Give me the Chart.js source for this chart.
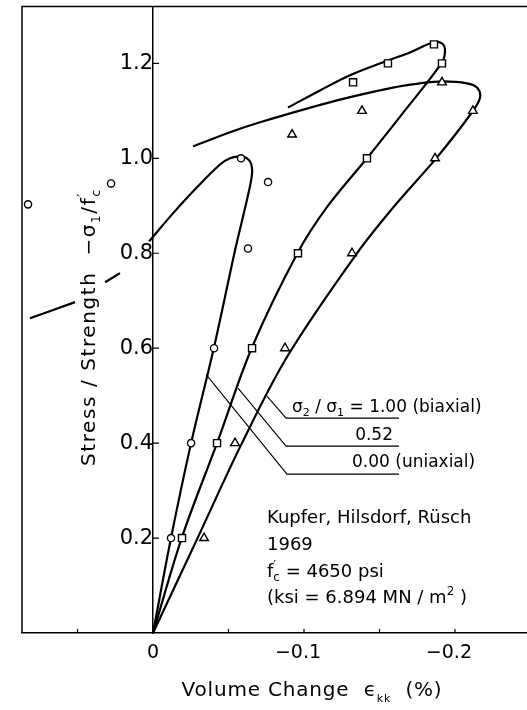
<!DOCTYPE html>
<html>
<head>
<meta charset="utf-8">
<script src="https://cdn.jsdelivr.net/npm/chart.js@4.4.1/dist/chart.umd.min.js"></script>
<style>
html, body { margin: 0; padding: 0; background: #fff; overflow: hidden; width: 527px; height: 710px; }
canvas { display: block; }
</style>
</head>
<body>
<canvas id="c" width="610" height="710"></canvas>
<script>
// ---------------- data ----------------
// Tick labels
const xTickValues = [0, -0.1, -0.2];
const xTickLabels = ['0', '\u22120.1  ', '\u22120.2  '];
const yTickValues = [0.2, 0.4, 0.6, 0.8, 1.0, 1.2];
const yTickLabels = ['0.2', '0.4', '0.6', '0.8', '1.0', '1.2'];

// Series (sigma2/sigma1)
const seriesNames = ['0.00 (uniaxial)', '0.52', '\u03c3\u2082/\u03c3\u2081 = 1.00 (biaxial)'];

// Measured points: uniaxial (circles)
const uniMarkX = [-0.0119, -0.0252, -0.0404, -0.0583, -0.0629, -0.0762, 0.0278, 0.0828];
const uniMarkY = [0.20, 0.40, 0.60, 1.00, 0.81, 0.95, 0.947, 0.903];
// Measured points: 0.52 (squares)
const midMarkX = [-0.0192, -0.0424, -0.0656, -0.0960, -0.1417, -0.1914, -0.1861, -0.1556, -0.1325];
const midMarkY = [0.20, 0.40, 0.60, 0.80, 1.00, 1.20, 1.24, 1.20, 1.16];
// Measured points: biaxial (triangles)
const biMarkX = [-0.0338, -0.0543, -0.0874, -0.1318, -0.1868, -0.2119, -0.1914, -0.1384, -0.0921];
const biMarkY = [0.20, 0.40, 0.60, 0.80, 1.00, 1.10, 1.16, 1.10, 1.05];

// Fitted curves (null = break where text sits on the line)
const uniCurveX = [0, -0.0119, -0.0252, -0.0404, -0.0543, -0.0629, -0.0656, -0.0649, -0.0623, -0.0576, -0.0510, -0.0444, -0.0291, -0.0132, 0.0026, null, 0.0219, 0.0318, null, 0.0517, 0.0815];
const uniCurveY = [0, 0.200, 0.400, 0.602, 0.806, 0.922, 0.968, 0.989, 1.000, 1.004, 1.000, 0.987, 0.939, 0.884, 0.825, null, 0.758, 0.739, null, 0.697, 0.663];

const midCurveX = [0, -0.0192, -0.0424, -0.0656, -0.0960, -0.1152, -0.1417, -0.1669, -0.1914, -0.1934, -0.1914, -0.1854, -0.1702, -0.1556, -0.1305, -0.1106, -0.0894];
const midCurveY = [0, 0.202, 0.400, 0.602, 0.802, 0.897, 1.000, 1.101, 1.202, 1.227, 1.242, 1.244, 1.223, 1.206, 1.175, 1.143, 1.107];

const biCurveX = [0, -0.0298, -0.0589, -0.0894, -0.1351, -0.1603, -0.1881, -0.2113, -0.2166, -0.2146, -0.2079, -0.1921, -0.1768, -0.1589, -0.1219, -0.0709, -0.0510, -0.0265];
const biCurveY = [0, 0.202, 0.400, 0.585, 0.800, 0.901, 1.002, 1.097, 1.128, 1.149, 1.158, 1.162, 1.158, 1.149, 1.122, 1.076, 1.055, 1.025];

// Leader lines from curves to their labels
const uniLeadX = [-0.0351, -0.0887, -0.1629];
const uniLeadY = [0.545, 0.3347, 0.3347];
const midLeadX = [-0.0563, -0.0881, -0.1629];
const midLeadY = [0.516, 0.3937, 0.3937];
const biLeadX = [-0.0755, -0.0881, -0.1629];
const biLeadY = [0.499, 0.4526, 0.4526];

// ---------------- drawing ----------------
const FAM = '"DejaVu Sans", "Liberation Sans", sans-serif';
Chart.defaults.font.family = FAM;
Chart.defaults.color = '#000';

const pts = (xs, ys) => xs.map((x, i) => ({ x: x, y: ys[i] }));

function marker(name, xs, ys, style, r) {
  return { label: name, data: pts(xs, ys), showLine: false, pointStyle: style, pointRadius: r,
    pointBorderWidth: 1.4, pointBackgroundColor: '#fff', pointBorderColor: '#000' };
}
function curve(name, xs, ys, w, tension) {
  return { label: name, data: pts(xs, ys), showLine: true, pointRadius: 0, borderColor: '#000',
    borderWidth: w, tension: tension, fill: false, spanGaps: false };
}

function richWidth(ctx, parts) {
  let w = 0;
  for (const p of parts) {
    ctx.font = p.s + 'px ' + FAM;
    if (p.stack) w += Math.max(...p.stack.map(t => ctx.measureText(t).width));
    else w += ctx.measureText(p.t).width;
  }
  return w;
}
function richDraw(ctx, parts, x, y) {
  for (const p of parts) {
    ctx.font = p.s + 'px ' + FAM;
    if (p.stack) {
      let mw = 0;
      p.stack.forEach((t, i) => { ctx.fillText(t, x, y + p.dy[i]); mw = Math.max(mw, ctx.measureText(t).width); });
      x += mw;
    } else {
      ctx.fillText(p.t, x, y + (p.dy || 0));
      x += ctx.measureText(p.t).width;
    }
  }
}

const decor = {
  id: 'decor',
  beforeDatasetsDraw(chart) {
    const ctx = chart.ctx, a = chart.chartArea;
    const xs = chart.scales.x, ys = chart.scales.y;
    ctx.save();
    ctx.strokeStyle = '#000';
    ctx.lineWidth = 1.5;
    ctx.beginPath();
    ctx.moveTo(a.left, a.bottom); ctx.lineTo(a.left, a.top); ctx.lineTo(a.right, a.top);
    ctx.stroke();
    // inward tick marks
    ctx.lineWidth = 1.2;
    ctx.beginPath();
    xs.ticks.forEach(t => {
      if (Math.abs(t.value) < 1e-9) return;
      const px = xs.getPixelForValue(t.value);
      ctx.moveTo(px, a.bottom); ctx.lineTo(px, a.bottom - 4);
    });
    const x0 = xs.getPixelForValue(0);
    ys.ticks.forEach(t => {
      if (t.value <= 0) return;
      const py = ys.getPixelForValue(t.value);
      ctx.moveTo(x0, py); ctx.lineTo(x0 + 6, py);
    });
    ctx.stroke();
    ctx.restore();
  },
  afterDraw(chart) {
    const ctx = chart.ctx, a = chart.chartArea;
    ctx.save();
    ctx.fillStyle = '#000';
    ctx.textBaseline = 'alphabetic';
    ctx.textAlign = 'left';

    // x-axis title
    ctx.letterSpacing = '0.8px';
    const xt = [{ t: 'Volume Change  \u03f5', s: 20 }, { t: 'kk', s: 11, dy: 6 }, { t: '  (%)', s: 20 }];
    const xw = richWidth(ctx, xt);
    richDraw(ctx, xt, (a.left + a.right) / 2 - xw / 2, 696);

    // y-axis title (rotated)
    ctx.letterSpacing = '1.6px';
    const yt = [{ t: 'Stress / Strength  \u2212\u03c3', s: 20 }, { t: '1', s: 12, dy: 5 },
                { t: '/f', s: 20 }, { stack: ['\u2032', 'c'], s: 13, dy: [-9, 5] }];
    const yw = richWidth(ctx, yt);
    ctx.save();
    ctx.translate(95, 327);
    ctx.rotate(-Math.PI / 2);
    richDraw(ctx, yt, -yw / 2, 0);
    ctx.restore();
    ctx.letterSpacing = '0px';

    // curve labels
    richDraw(ctx, [{ t: '\u03c3', s: 17 }, { t: '2', s: 11, dy: 4 }, { t: ' / \u03c3', s: 17 },
                   { t: '1', s: 11, dy: 4 }, { t: ' = 1.00 (biaxial)', s: 17 }], 292, 412);
    ctx.font = '17px ' + FAM;
    ctx.textAlign = 'right';
    ctx.fillText(seriesNames[1], 393, 440);
    ctx.textAlign = 'left';
    ctx.fillText(seriesNames[0], 352, 467);

    // source block
    ctx.font = '18px ' + FAM;
    ctx.fillText('Kupfer, Hilsdorf, R\u00fcsch', 267, 523);
    ctx.fillText('1969', 267, 550);
    richDraw(ctx, [{ t: 'f', s: 18 }, { stack: ['\u2032', 'c'], s: 12, dy: [-8, 4] }, { t: ' = 4650 psi', s: 18 }], 267, 577);
    richDraw(ctx, [{ t: '(ksi = 6.894 MN / m', s: 18 }, { t: '2', s: 12, dy: -8 }, { t: ' )', s: 18 }], 267, 603);
    ctx.restore();
  }
};

new Chart(document.getElementById('c'), {
  type: 'scatter',
  data: {
    datasets: [
      marker('uniaxial', uniMarkX, uniMarkY, 'circle', 3.6),
      marker('0.52', midMarkX, midMarkY, 'rect', 5),
      marker('biaxial', biMarkX, biMarkY, 'triangle', 5),
      curve('uniaxial curve', uniCurveX, uniCurveY, 2.2, 0.35),
      curve('0.52 curve', midCurveX, midCurveY, 2.2, 0.35),
      curve('biaxial curve', biCurveX, biCurveY, 2.2, 0.35),
      curve('uniaxial leader', uniLeadX, uniLeadY, 1.1, 0),
      curve('0.52 leader', midLeadX, midLeadY, 1.1, 0),
      curve('biaxial leader', biLeadX, biLeadY, 1.1, 0)
    ]
  },
  options: {
    responsive: false,
    animation: false,
    events: [],
    layout: { padding: { left: 22, top: 6, right: 8, bottom: 7 } },
    plugins: { legend: { display: false }, tooltip: { enabled: false } },
    scales: {
      x: {
        type: 'linear', reverse: true, min: -0.2974, max: 0.0868, position: 'bottom',
        afterFit: s => { s.height = 70; s.paddingLeft = 0; s.paddingRight = 0; },
        border: { display: true, color: '#000', width: 1.5 },
        grid: { display: false, drawTicks: false },
        ticks: {
          stepSize: 0.05, includeBounds: false, autoSkip: false, maxRotation: 0, minRotation: 0,
          padding: 9, color: '#000', font: { size: 19, family: FAM },
          callback: v => { const i = xTickValues.findIndex(t => Math.abs(t - v) < 1e-6); return i >= 0 ? xTickLabels[i] : ''; }
        }
      },
      y: {
        type: 'linear', min: 0, max: 1.32, position: { x: 0 },
        afterFit: s => { s.paddingTop = 0; s.paddingBottom = 0; },
        border: { display: true, color: '#000', width: 1.5 },
        grid: { display: false, drawTicks: false },
        ticks: {
          stepSize: 0.2, includeBounds: false, autoSkip: false,
          padding: 4, color: '#000', font: { size: 21, family: FAM },
          callback: v => { const i = yTickValues.findIndex(t => Math.abs(t - v) < 1e-6); return i >= 0 ? yTickLabels[i] : ''; }
        }
      }
    }
  },
  plugins: [decor]
});
</script>
</body>
</html>
